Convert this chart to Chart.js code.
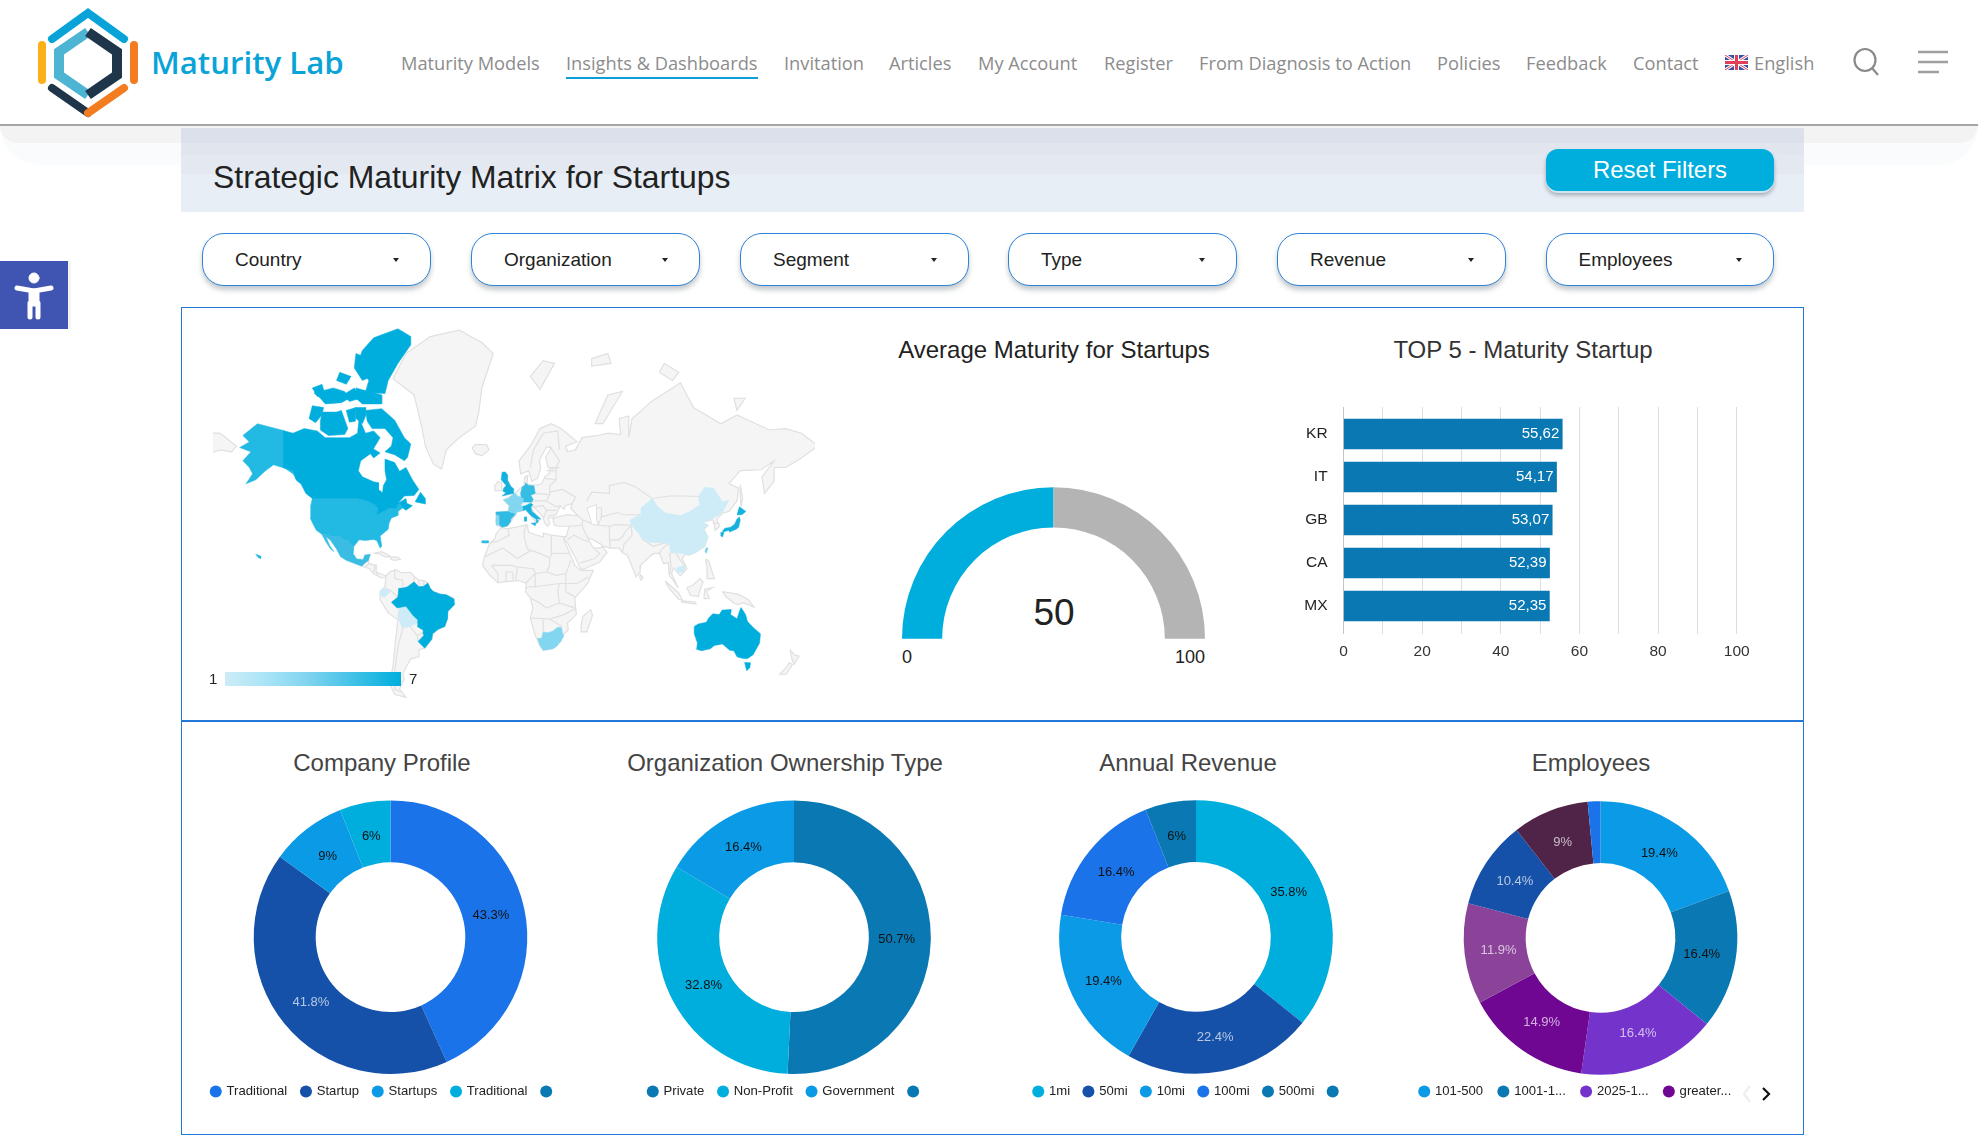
<!DOCTYPE html>
<html>
<head>
<meta charset="utf-8">
<title>Strategic Maturity Matrix for Startups</title>
<script src="https://cdn.jsdelivr.net/npm/chart.js@4"></script>
<style>
html,body{margin:0;padding:0;background:#fff}
#page{position:relative;width:1978px;height:1140px;overflow:hidden;font-family:"Liberation Sans",Arial,sans-serif}
#page>*{position:absolute}
canvas{position:absolute}
.nav{top:50px;font:18.25px/26px "Open Sans",sans-serif;color:#8c8c8c;white-space:nowrap}
.drop{top:233px;height:53px;width:228.5px;box-sizing:border-box;background:#fff;border:1.5px solid #2d82d9;border-radius:22px;box-shadow:0 4px 5px rgba(90,100,110,.35);font-size:19px;line-height:52px;color:#222;padding-left:32px}
.drop:after{content:"";position:absolute;right:31px;top:24px;border:3.5px solid transparent;border-top:4.5px solid #222;border-bottom:0}
.title{font-size:24px;line-height:30px;white-space:nowrap;transform:translateX(-50%)}
.small{font-size:15px;color:#222;z-index:2}
</style>
</head>
<body>
<div id="page">
  <!-- header -->
  <div style="left:0;top:125px;width:1978px;height:40px;background:#f9fbfd;border-radius:0 0 60px 60px"></div>
  <div style="left:0;top:125px;width:1978px;height:18px;background:#f3f3f3;border-radius:0 0 30px 30px"></div>
  <div style="left:0;top:124px;width:1978px;height:2px;background:#a5a5a5"></div>
  <svg style="left:30px;top:0" width="110" height="125" fill="none" stroke-linecap="round">
    <path d="M22 39 58 13 94 39" stroke="#0aa3d8" stroke-width="8"/>
    <path d="M12 45V80" stroke="#fbb01a" stroke-width="8"/>
    <path d="M104 45V80" stroke="#f37b20" stroke-width="8"/>
    <path d="M22 88 58 113" stroke="#1f3549" stroke-width="8"/>
    <path d="M94 88 58 113" stroke="#f37b20" stroke-width="8"/>
    <path d="M58 32 29 52V75L58 95" stroke="#4db5d3" stroke-width="10" stroke-linecap="butt"/>
    <path d="M58 32 87 52V75L58 95" stroke="#1f3549" stroke-width="10" stroke-linecap="butt"/>
  </svg>
  <div style="left:151px;top:39px;font:600 31.2px/46px 'Open Sans',sans-serif;color:#0aa3d8;white-space:nowrap">Maturity Lab</div>
  <div class="nav" style="left:401px">Maturity Models</div>
  <div class="nav" style="left:566px">Insights &amp; Dashboards</div>
  <div style="left:566px;top:77px;width:192px;height:2px;background:#0a9fd8"></div>
  <div class="nav" style="left:784px">Invitation</div>
  <div class="nav" style="left:889px">Articles</div>
  <div class="nav" style="left:978px">My Account</div>
  <div class="nav" style="left:1104px">Register</div>
  <div class="nav" style="left:1199px">From Diagnosis to Action</div>
  <div class="nav" style="left:1437px">Policies</div>
  <div class="nav" style="left:1526px">Feedback</div>
  <div class="nav" style="left:1633px">Contact</div>
  <svg style="left:1725px;top:55px" width="23" height="15" viewBox="0 0 23 15">
    <rect width="23" height="15" fill="#3a4fa8"/>
    <path d="M0 0 23 15M23 0 0 15" stroke="#fff" stroke-width="3"/>
    <path d="M0 0 23 15M23 0 0 15" stroke="#e0405a" stroke-width="1"/>
    <path d="M11.5 0V15M0 7.5H23" stroke="#fff" stroke-width="5"/>
    <path d="M11.5 0V15M0 7.5H23" stroke="#e0405a" stroke-width="3"/>
  </svg>
  <div class="nav" style="left:1754px">English</div>
  <svg style="left:1852px;top:46px" width="30" height="30" fill="none" stroke="#8a8a8a" stroke-width="2.2">
    <ellipse cx="13" cy="14" rx="10.5" ry="11"/><path d="M20 22 26 29"/>
  </svg>
  <svg style="left:1918px;top:50px" width="30" height="24" stroke="#a0a0a0" stroke-width="2.4">
    <path d="M0 2H30M0 12H30M0 22H21"/>
  </svg>

  <!-- accessibility tab -->
  <div style="left:0;top:261px;width:68px;height:68px;background:#4054b2;box-shadow:3px 0 0 #f4f4f4"></div>
  <svg style="left:0;top:261px" width="68" height="68" fill="#fff" stroke="#fff" stroke-linecap="round">
    <circle cx="34" cy="17" r="5"/>
    <path d="M17 27 34 30 51 27" stroke-width="5" fill="none"/>
    <path d="M34 30V42M30 42V56M38 42V56M31 32V43H37V32" stroke-width="5" fill="none"/>
  </svg>

  <!-- title band -->
  <div style="left:181px;top:128px;width:1623px;height:84px;background:linear-gradient(#dbe0ea 0 15px,#e0e5ee 15px 27px,#e4e9f1 27px 46px,#e8eef6 46px)"></div>
  <div style="left:213px;top:157px;font-size:31.9px;line-height:40px;color:#222;white-space:nowrap">Strategic Maturity Matrix for Startups</div>
  <div style="left:1546px;top:149px;width:228px;height:42px;background:#00aedd;border-radius:12px;box-shadow:0 2px 0 #cfe6f2,0 4px 4px rgba(70,80,90,.45);color:#fff;font-size:23.9px;line-height:42px;text-align:center">Reset Filters</div>

  <!-- filters -->
  <div class="drop" style="left:202px">Country</div>
  <div class="drop" style="left:471px">Organization</div>
  <div class="drop" style="left:740px">Segment</div>
  <div class="drop" style="left:1008px">Type</div>
  <div class="drop" style="left:1277px">Revenue</div>
  <div class="drop" style="left:1545.5px">Employees</div>

  <!-- panels -->
  <div style="left:181px;top:307px;width:1621px;height:412px;border:1px solid #2377d6;border-bottom:2px solid #2377d6;box-sizing:content-box"></div>
  <div style="left:181px;top:721px;width:1621px;height:413px;border:1px solid #2377d6;border-top:0"></div>

  <!-- titles -->
  <div class="title" style="left:1054px;top:335px;color:#222">Average Maturity for Startups</div>
  <div class="title" style="left:1523px;top:335px;color:#333">TOP 5 - Maturity Startup</div>
  <div class="title" style="left:382px;top:748px;color:#444">Company Profile</div>
  <div class="title" style="left:785px;top:748px;color:#444">Organization Ownership Type</div>
  <div class="title" style="left:1188px;top:748px;color:#444">Annual Revenue</div>
  <div class="title" style="left:1591px;top:748px;color:#444">Employees</div>

  <!-- map scale -->
  <div class="small" style="left:209px;top:670px">1</div>
  <div style="left:225px;top:672px;width:176px;height:14px;z-index:2;background:linear-gradient(90deg,#cdecf7,#a6e3f7 25%,#84d5f0 45%,#00aedd)"></div>
  <div class="small" style="left:409px;top:670px">7</div>

  <!-- gauge text -->
  <div style="left:1014px;top:592px;width:80px;text-align:center;font-size:37px;line-height:42px;color:#222">50</div>
  <div style="left:902px;top:646px;font-size:18px;line-height:22px;color:#222">0</div>
  <div style="left:1165px;top:646px;width:40px;text-align:right;font-size:18px;line-height:22px;color:#222">100</div>

  <!-- legend pager -->
  <svg style="left:1740px;top:1082px" width="35" height="24" fill="none" stroke-width="2.2">
    <path d="M10 4 4 12 10 20" stroke="#eeeeee"/><path d="M23 6 29 12 23 18" stroke="#111"/>
  </svg>

  <canvas id="map" width="602" height="380" style="left:213px;top:320px"></canvas>
  <canvas id="gauge" width="303" height="152" style="left:902px;top:487px"></canvas>
  <canvas id="top5" width="480" height="263" style="left:1290px;top:407px"></canvas>
</div>

<script>
// gauge
const gaugeValues = [50, 50]

// top 5
const top5Labels = ['KR', 'IT', 'GB', 'CA', 'MX']
const top5Values = [55.62, 54.17, 53.07, 52.39, 52.35]

// donuts
const profileLabels = ['Traditional', 'Startup', 'Startups', 'Traditional', '']
const profileValues = [43.3, 41.8, 9, 6, 0]
const ownershipLabels = ['Private', 'Non-Profit', 'Government', '']
const ownershipValues = [50.7, 32.8, 16.4, 0]
const revenueLabels = ['1mi', '50mi', '10mi', '100mi', '500mi', '']
const revenueValues = [35.8, 22.4, 19.4, 16.4, 6, 0]
const employeeLabels = ['101-500', '1001-1...', '2025-1...', 'greater...']
const employeeValues = [19.4, 16.4, 16.4, 14.9, 11.9, 10.4, 9, 1.5]

const BLUE = '#1a73e8', NAVY = '#1551a8', SKY = '#0a9ae6', CYAN = '#00aedd', TEAL = '#0a79b3'
const darkSlices = [NAVY, '#7434cc', '#6f0793', '#8a4399', '#502448']

// map outlines, [lon, lat]
const greenland = [[-73,78.2],[-65,81],[-50,82.5],[-32,83],[-18,82],[-11,81],[-18,77],[-20,73],[-22,70.5],[-32,68],[-40,65],[-43,59.5],[-48,61],[-53,66],[-55,70],[-60,76]]
const iceland = [[-24,65.5],[-22,66.4],[-15,66.3],[-13.6,65],[-18,63.4],[-22,64]]
const eurasia = [[-9,37],[-9.3,43],[-2,43.5],[-1,46],[-4.5,48.4],[1.5,50.5],[4,52],[8,54],[8.5,57],[10.5,57.5],[10,54.5],[14,54],[19,54.5],[21,57],[24,58.3],[24,59.5],[30,60],[23,60],[21.5,63],[25,65.5],[22,65.8],[17.5,62],[18.5,60],[16.5,56.5],[13,55.5],[11,59],[6,58],[5,62],[12,66],[18,70],[25,71],[31,70],[41,67],[34,66],[35,64.5],[40,65],[44,68],[54,68.5],[60,69],[68,68.7],[67,72],[73,72.5],[73,68],[75,72],[81,73.5],[87,75],[105,77.7],[113,74],[130,71],[140,72.7],[160,69.7],[170,70],[180,69],[190,66],[179,62.5],[170,60],[163,60],[163,55.5],[157,51],[155.5,57],[163,62],[155,59.3],[142,59],[135,54.7],[141,53],[140,48],[135,43.5],[131,42.7],[127.5,39.8],[129.3,36.5],[126.5,34.5],[126,37],[125,39.7],[121.5,39],[118,39],[122,37],[119.5,35],[122,31],[120,26],[114,22.3],[110,21],[108,21.5],[106,19],[109,13],[105,8.7],[100.5,13.5],[99.5,10],[103.5,1.3],[100.5,6],[98,9],[97.5,16.5],[94.5,16],[92,22],[89,22],[87,21],[80.3,15],[80,11],[77.5,8],[73,19],[72,21],[69,22.5],[67,25],[61.5,25],[57,26],[56,27],[50,30],[48,30],[50,26.5],[51.5,25],[55,25],[56.5,26],[59.5,22.5],[55,17],[45,12.7],[43.2,13],[39,21],[35,28],[32.5,30],[34.3,31.3],[36,36.5],[30,36.5],[27,37],[26,40],[29,41],[35,42],[41.5,41.5],[37,45],[38,47],[33.5,46],[33,44.5],[30.5,46],[28,42],[26,40.7],[23,40.5],[24,38],[22.8,36.5],[21,38],[19.5,41.5],[14,45.5],[12.3,45.3],[16,41.5],[18.4,40],[16,38],[12.5,41.5],[9,44.3],[3.5,43.2],[3,42],[0,39],[-2,36.8],[-5.5,36]]
const chukotka = [[-180,69],[-170,66],[-173,64.5],[-180,65],[-187,64],[-187,69]]
const africa = [[-6,35.8],[-2,35.2],[10,37.3],[11,33.5],[15,32.3],[20,31],[20,33],[25,32],[32.3,31.2],[34.3,31.3],[32.5,30],[35.5,24],[37.3,20],[39.5,15],[43.2,12],[51,12],[47.5,4],[39.5,-5],[40.5,-15],[35,-20],[35.5,-24],[32.8,-26],[31,-30],[26,-34],[20,-34.8],[18,-32.5],[15,-27],[12,-17],[13.5,-11],[12,-5],[9,-1],[9.5,4],[5,5.8],[-4,5],[-8,4.5],[-13,9],[-17.5,14.7],[-16.5,20],[-13,27.8],[-10,30],[-9,33]]
const madagascar = [[49.5,-12],[50.5,-15.5],[47,-25],[44,-25],[43.5,-21],[44.5,-16]]
const southAmerica = [[-77.3,8.7],[-75,11],[-71.5,12.4],[-68,10.7],[-62,10.7],[-60,8.5],[-57,6],[-54,5.8],[-51.5,4.3],[-50,1],[-48,-1],[-44,-2.5],[-40,-3],[-35.3,-5.5],[-35,-9],[-39,-13],[-39.5,-18],[-41,-22],[-45,-23.5],[-48.5,-26],[-49,-29],[-53.4,-33.7],[-57,-34.5],[-57,-38],[-62,-39],[-65,-43],[-67,-46],[-66,-48],[-69,-52],[-65,-55],[-72,-54],[-75,-50],[-73,-42],[-71.5,-30],[-70,-18],[-76,-14],[-81,-6],[-81,-1],[-78,2],[-77.5,7]]
const centralAmerica = [[-92.3,14.5],[-91,16],[-88.2,18],[-88,16],[-83.3,15],[-83.5,11],[-79.5,9.5],[-77.3,8.7],[-78,7.5],[-80.5,7.5],[-85,10],[-87.5,13]]
const cuba = [[-85,22],[-80,23],[-75,20.7],[-74.3,20],[-78,20],[-82,22]]
const hispaniola = [[-74.3,19.8],[-70,19.8],[-68.5,18.5],[-72,18],[-74.3,18.4]]
const ireland = [[-10,52],[-6,52.2],[-5.7,55],[-8,55.3],[-10,54]]
const sumatra = [[95.5,5.5],[104,-2],[106,-6],[104,-5.8],[98,1]]
const java = [[105.5,-6.5],[114.5,-7.5],[114.5,-8.7],[106,-7.5]]
const borneo = [[109,1.5],[113,3.2],[117,7],[119,5],[117.5,1],[116,-4],[111,-3.2]]
const sulawesi = [[119.5,-5.5],[120,0.5],[125,1.5],[121,-1],[123,-5]]
const newGuinea = [[131,-1],[141,-2.7],[147,-6],[150.5,-10.5],[144,-7.8],[141,-9],[138,-8],[133,-4]]
const philippines = [[120.5,18.5],[122.3,18],[124,13],[126,7],[122,7],[121.5,13.5]]
const sriLanka = [[80,9.7],[81.8,7.5],[80.5,6],[79.8,7.5]]
const sakhalin = [[142,54.3],[143.5,49],[142.5,46],[142,50]]
const novayaZemlya = [[52,71],[57,71],[69,76.5],[60,76]]
const svalbard = [[12,78.5],[20,80.3],[27,80],[18,76.8]]
const franzJosef = [[50,80.5],[60,81],[62,80],[50,79.7]]
const severnaya = [[95,80],[104,79],[100,78],[92,79]]
const newSiberia = [[138,75.5],[145,75.5],[140,73.5]]
const nzNorth = [[172.8,-34.5],[175.5,-37],[178.5,-37.7],[175.3,-41.6],[174,-39]]
const nzSouth = [[172.5,-40.7],[174.3,-41.7],[170.5,-46],[166.5,-46],[171,-42.5]]

const canada = [[-141,69.6],[-135,69],[-128,70],[-120,69.5],[-115,68],[-108,68],[-100,68],[-95,69],[-94,72],[-90,69],[-85,69.5],[-81,68],[-87,64],[-93,62],[-94.5,59],[-92,57],[-85,55.3],[-82,55],[-82,52.5],[-79.5,51.3],[-79,54],[-77,56],[-78,59],[-78,62.5],[-72,61.5],[-69,58.8],[-65,60],[-61,56],[-57,52.5],[-60,50.2],[-66,50],[-70,47],[-65,49],[-64.5,47],[-61,46],[-65,44],[-67,45],[-69,47.3],[-71,45],[-75,45],[-79,43.5],[-83,42],[-82.5,45],[-84.5,46.5],[-89,48],[-95,49],[-123,49],[-127,51],[-130,54.5],[-133,56],[-135,59],[-141,60]]
const newfoundland = [[-59,47.6],[-53,46.7],[-53,49],[-56,51.5],[-59,48]]
const baffin = [[-90,73.5],[-80,73.8],[-72,71.7],[-66,68],[-62,66.5],[-64,63],[-66,62],[-72,63.7],[-78,64.5],[-74,66],[-73,68],[-78,70],[-86,70],[-89,71.5]]
const victoria = [[-118,71.5],[-117,73.2],[-108,73.2],[-105,73.5],[-101,70],[-103,68.7],[-113,68.5],[-118,69.7]]
const banks = [[-125,72],[-123,74.3],[-116,74],[-117,72.7],[-121,71.2]]
const ellesmere = [[-90,76.5],[-85,76.3],[-78,76.2],[-76,78],[-70,80],[-62,81.8],[-62,82.5],[-70,83.1],[-85,82.4],[-92,81.3],[-95,80],[-88,78]]
const devon = [[-96,77],[-80,76],[-80,74.6],[-92,74.6],[-96,75.5]]
const axelHeiberg = [[-96,81],[-88,80.5],[-86,78.5],[-92,78],[-97,79.5]]
const melville = [[-122,76.3],[-110,77],[-103,76.5],[-100,75.5],[-105,74.8],[-115,74.6],[-118,75.5]]
const bathurst = [[-104,76],[-97,77],[-93,75.5],[-100,75]]
const princePatrick = [[-123,77],[-117,77.5],[-115,76],[-120,75.8]]
const ellefRingnes = [[-106,79],[-99,78.5],[-102,77.5],[-108,78]]
const princeOfWales = [[-102,73.5],[-96,74],[-96.5,71.5],[-100,71.3]]
const somerset = [[-96,74],[-90,74],[-90,72.5],[-92,71],[-96,72]]
const southampton = [[-87,65.7],[-81,64.2],[-85,62.8],[-87,64]]
const usa = [[-123,49],[-95,49],[-89,48],[-84.5,46.5],[-82.5,45],[-83,42],[-79,43.5],[-75,45],[-71,45],[-69,47.3],[-67,45],[-70,43.5],[-70,41.7],[-74,40.5],[-75.5,38],[-76,35],[-81,31.5],[-80,26],[-81,25],[-83,29],[-85,29.7],[-90,29.2],[-94,29.5],[-97.2,26],[-99.5,27.5],[-101.5,29.7],[-103,29],[-106.5,31.7],[-111,31.3],[-114.8,32.5],[-117.1,32.5],[-120.5,34.5],[-122.5,37.5],[-124.3,40.5],[-124,46]]
const alaska = [[-141,69.6],[-141,60],[-135,59],[-133,56],[-131,55],[-135,58],[-140,59.8],[-147,60.8],[-152,59],[-158,56],[-164,54.6],[-160,58],[-162,60],[-166,62],[-161,64.5],[-168,65.6],[-162,67],[-166,68.5],[-157,71]]
const hawaii = [[-158,21.5],[-155,20.5],[-155,19],[-156.5,19.5]]
const mexico = [[-117.1,32.5],[-114.8,32.5],[-111,31.3],[-106.5,31.7],[-103,29],[-101.5,29.7],[-99.5,27.5],[-97.2,26],[-97.8,22],[-95.5,18.8],[-91.5,18.5],[-90.5,21],[-87,21.5],[-88.2,18],[-91,16],[-92.3,14.5],[-96,15.8],[-102,18],[-105.5,20],[-108,24.5],[-112,29.5],[-114.5,31],[-112,26],[-109.5,23],[-112,24.8],[-115,29]]
const brazil = [[-51.5,4.3],[-50,1],[-48,-1],[-44,-2.5],[-40,-3],[-35.3,-5.5],[-35,-9],[-39,-13],[-39.5,-18],[-41,-22],[-45,-23.5],[-48.5,-26],[-49,-29],[-53.4,-33.7],[-57.5,-30.2],[-54,-27],[-54.5,-25.5],[-54.3,-24],[-58,-22],[-57.7,-18],[-60.2,-16],[-65,-10],[-70.5,-11],[-74,-7.5],[-70,-4.3],[-69.5,1],[-66.8,1.2],[-64,2],[-60,5],[-57,2],[-54,2.3]]
const bolivia = [[-69,-11],[-65,-10],[-60.2,-16],[-57.7,-18],[-58,-20],[-62.5,-22],[-67,-22.8],[-69.5,-17.5]]
const ecuador = [[-80,0.8],[-75.3,0],[-75.5,-2],[-78.5,-4.8],[-80.5,-3.3],[-81,-1]]
const southAfrica = [[16.5,-28.5],[19,-28.5],[20,-25],[23,-25.5],[26,-24.5],[29,-22.3],[31.3,-22.5],[32,-26],[32.8,-27],[31,-30],[28,-33],[26,-34],[20,-34.8],[18,-32.5]]
const britain = [[-5.5,50],[1.3,51],[1.7,52.8],[0,53.6],[-2,55.8],[-2,57.6],[-3.5,58.6],[-5.5,58.5],[-6,56],[-3,54],[-4.5,53],[-5,51.8],[-3,51.3]]
const germany = [[6,51],[7,53.5],[8.7,54],[9,55],[11,54],[14.2,53.9],[15,51],[12.2,50.3],[13.8,48.7],[13,47.5],[7.7,47.6],[8.2,49],[6.4,49.5]]
const france = [[-1.5,43.5],[-1,46],[-4.7,48.5],[-1.5,49],[1.5,50.8],[2.7,51],[4,50],[6.4,49.5],[8.2,49],[7.7,47.6],[6,46.3],[7,45.7],[7.5,43.8],[3.5,43.2],[3,42.4]]
const spain = [[-9.2,43.2],[-1.5,43.5],[3,42.4],[0,40],[-0.5,38.5],[-2,36.8],[-5.5,36],[-7.3,37.2],[-7,41.8],[-8.8,42]]
const portugal = [[-9,37],[-7.3,37.2],[-7,41.8],[-8.8,42],[-9.4,39]]
const italy = [[7,45.7],[7.5,43.8],[9,44.3],[12.5,41.5],[15.5,40],[16,38],[17,39],[16,40],[18.4,40],[16,41.7],[13,43.5],[12.3,45.3],[13.7,46.5],[12,47],[9,46]]
const sicily = [[12.5,38],[15.6,38.2],[15,36.7]]
const sardinia = [[8.3,41],[9.7,41],[9.5,39],[8.5,39]]
const canaries = [[-18,29],[-14,29],[-14,27.8],[-18,27.8]]
const china = [[73.7,39.5],[80,42],[80.5,45],[87.5,49],[91,45.5],[96,42.7],[105,41.7],[111,43.5],[117,46.5],[116,49.8],[120,53.3],[125.5,53],[131,47.7],[135,48.3],[131,43],[128,41.5],[124.3,40],[121.5,39],[118,39],[122,37],[119.5,35],[122,31],[120,26],[114,22.3],[110,21],[108,21.5],[102,22.3],[99,22],[98,27.5],[92,28],[86,28],[81,30.2],[79,33],[74.5,37]]
const taiwan = [[121,25.2],[122,25],[120.9,22],[120.2,23.2]]
const cambodia = [[102.5,13.5],[105,14.3],[107.5,14.5],[107.5,12],[105,10.5],[103,11]]
const honshu = [[130.9,34],[132.5,35.5],[136,36],[138.5,37.5],[140,40],[141.5,41],[142,39.5],[141,36],[139.5,35],[136.5,34],[135.5,33.5],[135,34.5],[132,33.8]]
const hokkaido = [[140,42],[141.5,45.5],[145.5,43.5],[143,42]]
const kyushu = [[130,33.5],[132,33.5],[131,31],[130,31.5]]
const australia = [[113.5,-22],[116,-20.5],[121,-19.5],[122.5,-17],[125,-14.5],[129,-15],[130.8,-12.3],[136.5,-12],[136,-15],[140,-17.5],[141.7,-12.5],[142.5,-10.7],[145.3,-15],[146.5,-19],[150,-22.5],[154.5,-26],[154,-31],[150,-37],[146.3,-39],[143,-38.7],[140,-38],[138,-35],[135.5,-34.8],[131,-31.5],[126,-32.3],[123.5,-34],[118,-35],[115,-34.3],[115.5,-31],[113.5,-26]]
const tasmania = [[144.7,-40.7],[148.3,-40.8],[148,-43],[146,-44.5]]
const caspian = [[47,45],[53,46.5],[53,40],[54,37],[50,37.5],[49,40.5]]

const borders = [
  [[-2,35],[-1,32],[-9,28.5],[-13,27.8]],[[9,37],[8,32],[10,25],[12,23.5]],[[25,32],[25,20]],[[25,22],[36.5,22]],
  [[-5,25],[4,19],[12,23.5],[15,23],[24,19.5],[24,15],[22,11]],[[-12,15],[-5,15],[0,15],[4,14],[14,13],[15,10],[22,11],[28,9],[34,10],[36,15],[37,18]],
  [[3,6.3],[4,14]],[[-3,5],[-3,11],[1,11],[1.5,6]],[[-8,4.5],[-8,10],[-12,15]],[[9,4],[15,10]],[[15,10],[15,2],[11,2],[9,1]],
  [[15,2],[30,4],[34,4],[41,4],[48,8]],[[34,10],[34,4],[34,-1],[40,-4.5]],[[30,4],[29,-1],[30,-8],[39.5,-11]],[[12,-5],[18,-8],[22,-11],[30,-8]],
  [[12,-17],[24,-17.7],[33,-15],[40.5,-11]],[[20,-25],[20,-18]],[[24,-17.7],[32,-22]],[[-16.5,20],[-5,25]],
  [[14,54],[15,51],[24,50.5],[24,54],[28,56],[28,60]],[[14,48],[22,48],[24,50.5]],[[22,48],[28,45.5],[30,46]],[[14,45.5],[20,46],[22,44],[28,44]],
  [[22,44],[20,40]],[[23,41.5],[27,42]],[[24,51.5],[32,52.5],[40,49.5],[38,47]],[[21,56.5],[28,56]],[[22,59],[28,59]],
  [[12,60],[14,65],[20,69],[29,69.5]],[[24,66],[30,62],[28,60]],[[30,65],[29,69.5]],[[36,36.5],[44,37],[44.5,39.5]],[[41.5,41.5],[44.5,39.5]],
  [[44.5,39.5],[48,38.5],[54,37],[61,36.5],[61,31],[61.5,25]],[[44,37],[46,33],[48,30]],[[35,29.5],[39,32],[46,29],[48,28.5]],[[43,16.5],[52,19],[55,22],[52,24]],
  [[61,36.5],[65,37.3],[74.5,37],[71,34],[69,31],[66.5,29.5],[61,29.5]],[[74.5,37],[75,32],[70,27],[69,22.5]],[[81,30],[88,26],[96,28]],[[92,22],[94,25],[98,27.5]],
  [[98,22],[98.5,20],[99,15.5],[98.5,10]],[[102,22.3],[105,18],[107.5,14.5],[106,11]],[[50,45],[56,45],[56,41],[66,43],[70,42],[80,42]],[[54,37],[56,41]],
  [[47,48],[50,51.5],[61,51],[61,54],[70,55],[77,53.5],[87.5,49],[98,50],[107,50],[116,49.8]],[[125,38],[129,38]],
  [[-72,12],[-72,7],[-67,6],[-67,1.2]],[[-60,8.5],[-60,5]],[[-57,6],[-57,2]],[[-54,5.8],[-54,2.3]],[[-70,-4.3],[-75,0],[-79,1.5]],[[-70,-18],[-69,-11]],
  [[-69,-18],[-67,-23],[-70,-33],[-72,-45],[-72,-52],[-68,-53]],[[-62.5,-22],[-58,-27],[-54.5,-25.5]],[[-58,-27],[-57.5,-30.2]],[[-88,16],[-90,14]],[[-84,15],[-85,11]],[[-83,9],[-83,11]]
]

const LAND = '#f5f5f5', LAND_EDGE = '#e0e0e0'
const greyLand = [greenland, iceland, eurasia, chukotka, africa, madagascar, southAmerica, centralAmerica, cuba, hispaniola, ireland, sumatra, java, borneo, sulawesi, newGuinea, philippines, sriLanka, sakhalin, novayaZemlya, svalbard, franzJosef, severnaya, newSiberia, nzNorth, nzSouth]
const painted = [
  [canada, CYAN], [newfoundland, CYAN], [baffin, CYAN], [victoria, CYAN], [banks, CYAN], [ellesmere, CYAN], [devon, CYAN], [axelHeiberg, CYAN], [melville, CYAN], [bathurst, CYAN], [princePatrick, CYAN], [ellefRingnes, CYAN], [princeOfWales, CYAN], [somerset, CYAN], [southampton, CYAN],
  [usa, '#22b9e3'], [alaska, '#22b9e3'], [hawaii, '#22b9e3'], [mexico, '#3bbde3'],
  [brazil, CYAN], [bolivia, '#cdecf7'], [ecuador, '#cdecf7'], [southAfrica, '#82d6f0'],
  [britain, '#14b1df'], [germany, '#35bde4'], [france, '#82d6f0'], [spain, '#2fbbe3'], [portugal, '#82d6f0'], [italy, '#17b4e0'], [sicily, '#17b4e0'], [sardinia, '#17b4e0'], [canaries, '#2fbbe3'],
  [china, '#cdecf7'], [taiwan, '#6ccdeb'], [cambodia, '#cdecf7'], [honshu, '#14b1df'], [hokkaido, '#14b1df'], [kyushu, '#14b1df'],
  [australia, CYAN], [tasmania, CYAN]
]

const mercator = lat => Math.log(Math.tan(Math.PI / 4 + lat * Math.PI / 360))
const toXY = ring => ring.map(([lon, lat]) => ({x: lon, y: mercator(lat)}))
const closed = ring => toXY(ring.concat([ring[0]]))

const mapSets = []
for (const ring of borders) {
    mapSets.push({data: toXY(ring), borderColor: LAND_EDGE, borderWidth: 1.2, fill: false, order: 3})
}
for (const ring of greyLand) {
    mapSets.push({data: closed(ring), borderColor: LAND_EDGE, backgroundColor: LAND, borderWidth: 1.2, fill: 'shape', order: 4})
}
for (const [ring, color] of painted) {
    mapSets.push({data: closed(ring), borderColor: color, backgroundColor: color, borderWidth: 0.5, fill: 'shape', order: 1})
}
mapSets.push({data: closed(caspian), borderColor: LAND_EDGE, backgroundColor: '#fff', borderWidth: 1, fill: 'shape', order: 2})

new Chart(document.getElementById('map'), {
    type: 'scatter',
    data: {datasets: mapSets},
    options: {
        animation: false,
        responsive: false,
        showLine: true,
        elements: {point: {radius: 0}, line: {tension: 0}},
        layout: {padding: 0},
        plugins: {legend: {display: false}, tooltip: {enabled: false}},
        scales: {
            x: {display: false, min: -184.5, max: 188.3},
            y: {display: false, min: -1.183, max: 2.903}
        }
    }
})

new Chart(document.getElementById('gauge'), {
    type: 'doughnut',
    data: {labels: ['Maturity', ''], datasets: [{data: gaugeValues, backgroundColor: [CYAN, '#b4b4b4'], borderWidth: 0, clip: false}]},
    options: {
        animation: false,
        responsive: false,
        rotation: -90,
        circumference: 180,
        cutout: '73.5%',
        layout: {padding: 0},
        plugins: {legend: {display: false}, tooltip: {enabled: false}}
    }
})

const barValueLabels = {
    id: 'barValueLabels',
    afterDatasetsDraw(chart) {
        const ctx = chart.ctx
        ctx.save()
        ctx.font = '15px "Liberation Sans"'
        ctx.fillStyle = '#fff'
        ctx.textAlign = 'right'
        ctx.textBaseline = 'middle'
        chart.getDatasetMeta(0).data.forEach((bar, i) => {
            ctx.fillText(top5Values[i].toFixed(2).replace('.', ','), bar.x - 3, bar.y)
        })
        ctx.restore()
    }
}

new Chart(document.getElementById('top5'), {
    type: 'bar',
    data: {datasets: [{data: top5Values.map((x, y) => ({x, y})), backgroundColor: TEAL, barThickness: 30}]},
    options: {
        animation: false,
        responsive: false,
        indexAxis: 'y',
        layout: {padding: {right: 33.3}},
        plugins: {legend: {display: false}, tooltip: {enabled: false}},
        scales: {
            x: {
                type: 'linear',
                min: 0,
                max: 100,
                afterFit: s => { s.height = 36 },
                grid: {drawTicks: false, color: c => c.tick.value === 0 ? '#c4c4c4' : '#dedede'},
                border: {display: false},
                ticks: {
                    stepSize: 10,
                    autoSkip: false,
                    maxRotation: 0,
                    padding: 8,
                    color: '#333',
                    font: {family: '"Liberation Sans"', size: 15.5},
                    callback: v => v % 20 === 0 ? v : ''
                }
            },
            y: {
                type: 'linear',
                offset: false,
                reverse: true,
                min: -0.628,
                max: 4.651,
                // tick padding is only meant as a gap to the labels, not above the plot
                afterFit: s => { s.width = 53.6; s.paddingTop = 0; s.paddingBottom = 0 },
                afterBuildTicks: s => { s.ticks = top5Labels.map((_, i) => ({value: i})) },
                grid: {display: false, drawTicks: false},
                border: {display: false},
                ticks: {
                    autoSkip: false,
                    padding: 16,
                    color: '#222',
                    font: {family: '"Liberation Sans"', size: 15.5},
                    callback: v => top5Labels[v]
                }
            }
        }
    },
    plugins: [barValueLabels]
})

const sliceLabels = {
    id: 'sliceLabels',
    afterDatasetsDraw(chart) {
        const ctx = chart.ctx
        const ds = chart.data.datasets[0]
        ctx.save()
        ctx.font = '13px "Liberation Sans"'
        ctx.textAlign = 'center'
        ctx.textBaseline = 'middle'
        chart.getDatasetMeta(0).data.forEach((arc, i) => {
            if (ds.data[i] < 2) return
            const p = arc.getCenterPoint()
            ctx.fillStyle = darkSlices.includes(ds.backgroundColor[i]) ? 'rgba(255,255,255,0.68)' : '#111'
            // labels sit a little inside the ring's middle
            ctx.fillText(ds.data[i] + '%', arc.x + (p.x - arc.x) * 0.97, arc.y + (p.y - arc.y) * 0.97)
        })
        ctx.restore()
    }
}

function addDonut(centerX, legendLeft, labels, values, colors, legendPad) {
    const pad = legendPad
    const width = 2 * (centerX - legendLeft + pad)
    const canvas = document.createElement('canvas')
    canvas.width = width
    canvas.height = 318
    canvas.style.left = (centerX - width / 2) + 'px'
    canvas.style.top = '790px'
    document.getElementById('page').appendChild(canvas)
    new Chart(canvas, {
        type: 'doughnut',
        data: {labels, datasets: [{data: values, backgroundColor: colors, borderWidth: 0, radius: 136.8, clip: false}]},
        options: {
            animation: false,
            responsive: false,
            cutout: '54.7%',
            layout: {padding: {top: 14 + 2 * (pad - 14.5)}},
            plugins: {
                tooltip: {enabled: false},
                legend: {
                    position: 'bottom',
                    align: 'start',
                    labels: {
                        usePointStyle: true,
                        pointStyle: 'circle',
                        boxHeight: 8.5,
                        boxWidth: 8.5,
                        padding: pad,
                        color: '#222',
                        font: {family: '"Liberation Sans"', size: 13.1},
                        filter: item => item.index < labels.length
                    }
                }
            }
        },
        plugins: [sliceLabels]
    })
}

addDonut(390, 211, profileLabels, profileValues, [BLUE, NAVY, SKY, CYAN, TEAL], 14.5)
addDonut(794, 648.5, ownershipLabels, ownershipValues, [TEAL, CYAN, SKY, TEAL], 14.5)
addDonut(1196, 1034, revenueLabels, revenueValues, [CYAN, NAVY, SKY, BLUE, TEAL, TEAL], 14)
addDonut(1600.6, 1420, employeeLabels, employeeValues, [SKY, TEAL, '#7434cc', '#6f0793', '#8a4399', NAVY, '#502448', BLUE], 16)
</script>
</body>
</html>
